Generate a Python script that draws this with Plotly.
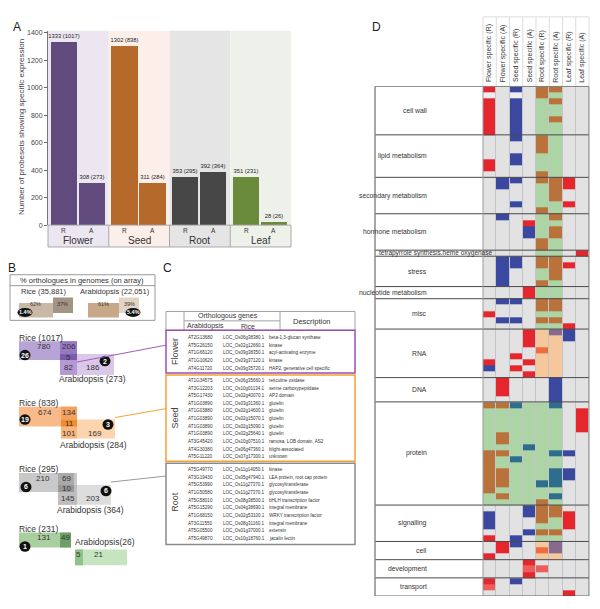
import plotly.graph_objects as go

W, H = 600, 609
FONT = "Liberation Sans, Arial, sans-serif"


def X(px):
    return px / W


def Y(py):
    return 1 - py / H


# ---------------- Panel A data ----------------
tissues = ["Flower", "Seed", "Root", "Leaf"]
rice_specific = [1333, 1302, 353, 351]
rice_with_orth = [1017, 838, 295, 231]
arab_specific = [308, 311, 392, 28]
arab_with_orth = [273, 284, 364, 26]
species_ticks = ["R", "A"]
y_ticks = [0, 200, 400, 600, 800, 1000, 1200, 1400]
bar_colors = ["#614b7e", "#b5692b", "#474747", "#6b8b3c"]
band_colors = ["#ebe6f0", "#fcefe9", "#e5e5e5", "#eef1ea"]

# ---------------- Panel B data ----------------
genome_labels = ["Rice (35,881)", "Arabidopsis (22,051)"]
pct_orth = [62, 61]
pct_nonorth = [37, 39]
pct_unique = ["1.4%", "5.4%"]

venn_rice_total = [1017, 838, 295, 231]
venn_arab_total = [273, 284, 364, 26]
venn_rice_only = [780, 674, 210, 131]
venn_rice_orth = [206, 134, 69, 49]
venn_overlap = [5, 11, 10, None]
venn_arab_orth = [82, 101, 145, 5]
venn_arab_only = [186, 169, 203, 21]
venn_rice_circle = [26, 19, 6, 1]
venn_arab_circle = [2, 3, 6, None]

# ---------------- Panel C data ----------------
flower_arab = ["AT2G13680", "AT5G26150", "AT1G66120", "AT1G10620", "AT4G11720"]
flower_rice = ["LOC_Os06g38380.1", "LOC_Os02g12660.1", "LOC_Os09g38350.1",
               "LOC_Os03g37120.1", "LOC_Os09g35720.1"]
flower_desc = ["beta-1,3-glucan synthase", "kinase", "acyl-activating enzyme",
               "kinase", "HAP2, generative cell specific"]
seed_arab = ["AT1G34575", "AT3G12203", "AT5G17430", "AT1G03890", "AT1G03880",
             "AT1G03890", "AT1G03890", "AT1G03890", "AT3G45420", "AT4G30380", "AT5G11220"]
seed_rice = ["LOC_Os06g35660.1", "LOC_Os10g01134.1", "LOC_Os02g40070.1",
             "LOC_Os03g31360.1", "LOC_Os02g14600.1", "LOC_Os02g15070.1",
             "LOC_Os02g15090.1", "LOC_Os02g25640.1", "LOC_Os10g07510.1",
             "LOC_Os06g47360.1", "LOC_Os07g17300.1"]
seed_desc = ["reticuline oxidase", "serine carboxypeptidase", "AP2 domain",
             "glutelin", "glutelin", "glutelin", "glutelin", "glutelin",
             "ramosa, LOB domain, AS2", "blight-associated", "unknown"]
root_arab = ["AT5G49770", "AT3G19430", "AT5G53990", "AT1G50580", "AT5G58010",
             "AT5G15290", "AT1G68150", "AT3G11550", "AT5G05500", "AT5G49870"]
root_rice = ["LOC_Os11g14050.1", "LOC_Os05g47940.1", "LOC_Os11g27370.1",
             "LOC_Os11g27370.1", "LOC_Os08g38500.1", "LOC_Os04g38690.1",
             "LOC_Os02g53100.1", "LOC_Os08g31160.1", "LOC_Os01g37000.1",
             "LOC_Os10g18760.1"]
root_desc = ["kinase", "LEA protein, root cap protein", "glycosyltransferase",
             "glycosyltransferase", "bHLH transcription factor", "integral membrane",
             "WRKY transcription factor", "integral membrane", "extensin", "jacalin lectin"]

# ---------------- Panel D data ----------------
heat_columns = ["Flower specific (R)", "Flower specific (A)", "Seed specific (R)",
                "Seed specific (A)", "Root specific (R)", "Root specific (A)",
                "Leaf specific (R)", "Leaf specific (A)"]
heat_categories = ["cell wall", "lipid metabolism", "secondary metabolism",
                   "hormone metabolism", "tetrapyrrole synthesis.heme oxygenase",
                   "stress", "nucleotide metabolism", "misc", "RNA", "DNA",
                   "protein", "signalling", "cell", "development", "transport"]
heat_cell_wall = ["r.b.nn..", "w.w.ng..", "r.b.gn..", "r.b.gg..", "r.b.gg..",
                  "r.b.gn..", "r.b.gg..", "r.b.gg.."]
heat_lipid = ["..b.ng..", "....ng..", "....ng..", "..b.gg..", "r.b.gg..",
              "r...gg..", "....ng.."]
heat_secondary = [".bb.nnr.", ".b..gnr.", "....gn..", "....gn..", "..b.ggr.", "....ng.."]
heat_hormone = [".b..gn..", "...rgg..", "...bgn..", "...bgn..", "....ng..", "....ng.."]
heat_tetrapyrrole = ["....gg.r"]
heat_stress = [".bb.nn..", ".bb.nnr.", ".b..gn..", ".b..gn..", ".b..ng.."]
heat_nucleotide = ["...rgg..", "...rgg.."]
heat_misc = [".bb.nn..", "....nn..", "r...gg..", ".bb.nn..", "....ggr."]
heat_rna = ["...rpvb.", "...rppb.", "...rpp..", "....op..", "..r.pp..",
            "r..rpp..", "b.r.pp..", "...rpp.."]
heat_dna = [".r...b..", ".r...b..", ".r...b..", ".....b.."]
heat_protein = ["nntggt..", "gggggg.r", "gggggg.r", "gggggg.r", "gggggg.r",
                "gngggg..", "gngggg..", "gggtgg..", "nngggtb.", "ngtggg..",
                "nggggg..", "nngggtb.", "nngggtb.", "nnggtt..", "nggggg..",
                "gngggt..", "ggggng.."]
heat_signalling = ["...bnn..", "b..bnnr.", "b...ngr.", "b...ggr.", "...bnn..", "r.b.gg.."]
heat_cell = [".rb.pv..", ".r..ov..", "r...pp.."]
heat_development = ["...r....", "...ll...", "...r...."]
heat_transport = ["r.b.....", "l.......", "......r."]

heat_blocks = [heat_cell_wall, heat_lipid, heat_secondary, heat_hormone,
               heat_tetrapyrrole, heat_stress, heat_nucleotide, heat_misc,
               heat_rna, heat_dna, heat_protein, heat_signalling, heat_cell,
               heat_development, heat_transport]

code_keys = ".wrlbngpotv"
code_colors = ["#e2e2e2", "#efedf2", "#e5262d", "#ee5c5c", "#3a48a0", "#b9733a",
               "#acd4a4", "#f6c79b", "#ee6c40", "#2e6e8c", "#876a8e"]

fig = go.Figure()


def ann(text, x, y, size=7, color="#333", xa="center", ya="middle", angle=0,
        xref="paper", yref="paper", bold=False):
    if xref == "paper":
        x = X(x)
    if yref == "paper":
        y = Y(y)
    if bold:
        text = "<b>" + str(text) + "</b>"
    fig.add_annotation(text=str(text), x=x, y=y, xref=xref, yref=yref, showarrow=False,
                       font=dict(size=size, color=color, family=FONT),
                       xanchor=xa, yanchor=ya, textangle=angle, borderpad=0)


def rect(x0, y0, x1, y1, fill=None, line=None, lw=1, layer="above"):
    fig.add_shape(type="rect", xref="paper", yref="paper",
                  x0=X(x0), x1=X(x1), y0=Y(y1), y1=Y(y0),
                  fillcolor=fill if fill else "rgba(0,0,0,0)",
                  line=dict(color=line if line else "rgba(0,0,0,0)", width=lw if line else 0),
                  layer=layer)


def seg(x0, y0, x1, y1, color, width=1):
    fig.add_shape(type="line", xref="paper", yref="paper",
                  x0=X(x0), x1=X(x1), y0=Y(y0), y1=Y(y1),
                  line=dict(color=color, width=width))


def oval(cx, cy, w, h, text, size=7):
    fig.add_shape(type="circle", xref="paper", yref="paper",
                  x0=X(cx - w / 2), x1=X(cx + w / 2), y0=Y(cy + h / 2), y1=Y(cy - h / 2),
                  fillcolor="#111", line=dict(color="#111", width=0))
    ann(text, cx, cy, size=size, color="white", bold=True)


# ================= Panel A =================
xs, ys, cols, txts = [], [], [], []
for g in range(len(tissues)):
    xs += [g + 0.26, g + 0.72]
    ys += [rice_specific[g], arab_specific[g]]
    cols += [bar_colors[g]] * 2
    txts += [f"{rice_specific[g]} ({rice_with_orth[g]})",
             f"{arab_specific[g]} ({arab_with_orth[g]})"]
fig.add_trace(go.Bar(x=xs, y=ys, width=0.43, marker=dict(color=cols, line=dict(width=0)),
                     text=txts, textposition="outside", constraintext="none",
                     textfont=dict(size=5.8, color="#222", family=FONT), cliponaxis=False,
                     xaxis="x", yaxis="y", hoverinfo="skip", showlegend=False))

for g in range(len(tissues)):
    fig.add_shape(type="rect", xref="x", yref="paper", x0=g, x1=g + 1,
                  y0=Y(247), y1=Y(29), fillcolor=band_colors[g], line=dict(width=0),
                  layer="below")
    for k, lab in enumerate(species_ticks):
        fig.add_annotation(text=lab, x=g + (0.26 if k == 0 else 0.72), y=Y(230.5),
                           xref="x", yref="paper", showarrow=False,
                           font=dict(size=6.5, color="#333", family=FONT))
    fig.add_annotation(text=tissues[g], x=g + 0.5, y=Y(240), xref="x", yref="paper",
                       showarrow=False, font=dict(size=10, color="#333", family=FONT))
    if g > 0:
        fig.add_shape(type="line", xref="x", yref="paper", x0=g, x1=g,
                      y0=Y(247), y1=Y(225), line=dict(color="#a8a8a8", width=1))
rect(48, 225, 291, 247, line="#a8a8a8", lw=1)
ann("A", 17, 25, size=12, color="#222")
ann("Number of probesets showing specific expression", 22, 126, size=8,
    color="#444", angle=-90)

# ================= Panel B =================
ann("B", 12, 268, size=12, color="#222")
rect(10, 275, 155, 321, line="#9a9a9a", lw=1)
seg(10, 286, 155, 286, "#9a9a9a", 1)
ann("% orthologues in genomes (on array)", 82, 281, size=7.5, color="#333")
ann(genome_labels[0], 20, 292, size=7.5, color="#333", xa="left")
ann(genome_labels[1], 79, 292, size=7.5, color="#333", xa="left")

orth_bar_colors = [("#c9b8a5", "#a39382"), ("#c7a98a", "#e2d3c3")]
for k, (xa_, ya_) in enumerate([("x3", "y3"), ("x4", "y4")]):
    fig.add_trace(go.Bar(y=[0], x=[pct_orth[k]], base=[0], orientation="h", width=1,
                         marker=dict(color=orth_bar_colors[k][0], line=dict(width=0)),
                         xaxis=xa_, yaxis=ya_, hoverinfo="skip", showlegend=False))
    fig.add_trace(go.Bar(y=[0], x=[pct_nonorth[k]], base=[pct_orth[k]], orientation="h",
                         width=1, marker=dict(color=orth_bar_colors[k][1], line=dict(width=0)),
                         xaxis=xa_, yaxis=ya_, hoverinfo="skip", showlegend=False))
    fig.add_annotation(text=f"{pct_orth[k]}%", x=pct_orth[k] / 2, y=0.2, xref=xa_, yref=ya_,
                       showarrow=False, font=dict(size=5.5, color="#333", family=FONT))
    fig.add_annotation(text=f"{pct_nonorth[k]}%", x=pct_orth[k] + pct_nonorth[k] / 2, y=0.2,
                       xref=xa_, yref=ya_, showarrow=False,
                       font=dict(size=5.5, color="#333", family=FONT))
oval(25, 313, 15, 9, pct_unique[0], size=5.5)
oval(133, 313, 15, 9, pct_unique[1], size=5.5)

venn_geom = [
    dict(rice=(19, 342, 77, 361), rorth=(60, 77), arab=(60, 355, 114, 376), aorth=(60, 77),
         rty=347, oy=358.5, aty=369, rlab=(18, 338.5), alab=(92, 380.5, "center"),
         rc=(25, 356), ac=(105, 362), aonly_x=93,
         colors=("#b8a3d7", "#9677c2", "#d9c8ea", "#b499d4", "#7b5aaa")),
    dict(rice=(19, 408, 77, 428), rorth=(61, 77), arab=(61, 421, 115, 440), aorth=(61, 77),
         rty=414, oy=424.5, aty=435, rlab=(18, 404), alab=(93, 447, "center"),
         rc=(25, 421), ac=(108, 426), aonly_x=95,
         colors=("#f8b98b", "#f4a262", "#fcd4ae", "#f8b67e", "#f08d30")),
    dict(rice=(19, 475, 77, 494), rorth=(58, 74), arab=(58, 487, 111, 507), aorth=(58, 77),
         rty=480, oy=490.5, aty=501, rlab=(18, 471), alab=(90, 512.5, "center"),
         rc=(26, 489), ac=(106, 493), aonly_x=93,
         colors=("#c9c9c9", "#a9a9a9", "#dddddd", "#bdbdbd", "#979797")),
    dict(rice=(19, 535, 71, 550), rorth=(60, 71), arab=(75, 552, 127, 568), aorth=(75, 83),
         rty=540, oy=None, aty=557, rlab=(18, 531), alab=(74, 544, "left"),
         rc=(25, 549), ac=None, aonly_x=98,
         colors=("#a9cfa0", "#6f9f69", "#c6e4bf", "#8fc287", "#6f9f69")),
]

for i, gm in enumerate(venn_geom):
    c_rice, c_rorth, c_arab, c_aorth, c_ov = gm["colors"]
    rx0, ry0, rx1, ry1 = gm["rice"]
    ax0, ay0, ax1, ay1 = gm["arab"]
    rect(rx0, ry0, rx1, ry1, fill=c_rice)
    rect(ax0, ay0, ax1, ay1, fill=c_arab)
    rect(gm["rorth"][0], ry0, gm["rorth"][1], ry1, fill=c_rorth)
    rect(gm["aorth"][0], ay0, gm["aorth"][1], ay1, fill=c_aorth)
    if venn_overlap[i] is not None:
        rect(gm["rorth"][0], ay0, gm["rorth"][1], ry1, fill=c_ov)
        ann(venn_overlap[i], (gm["rorth"][0] + gm["rorth"][1]) / 2, gm["oy"], size=8, color="#333")
    ann(venn_rice_only[i], rx0 + 0.62 * (gm["rorth"][0] - rx0), gm["rty"], size=8, color="#333")
    ann(venn_rice_orth[i], (gm["rorth"][0] + gm["rorth"][1]) / 2, gm["rty"], size=8, color="#333")
    ann(venn_arab_orth[i], (gm["aorth"][0] + gm["aorth"][1]) / 2, gm["aty"], size=8, color="#333")
    ann(venn_arab_only[i], gm["aonly_x"], gm["aty"], size=8, color="#333")
    ann(f"Rice ({venn_rice_total[i]})", gm["rlab"][0], gm["rlab"][1], size=8.5,
        color="#333", xa="left")
    alab = (f"Arabidopsis ({venn_arab_total[i]})" if gm["alab"][2] == "center"
            else f"Arabidopsis({venn_arab_total[i]})")
    ann(alab, gm["alab"][0], gm["alab"][1], size=8.5, color="#333", xa=gm["alab"][2])
    oval(gm["rc"][0], gm["rc"][1], 11, 10.5, venn_rice_circle[i], size=7)
    if gm["ac"] is not None and venn_arab_circle[i] is not None:
        oval(gm["ac"][0], gm["ac"][1], 11, 10.5, venn_arab_circle[i], size=7)

# connectors B -> C
seg(77, 363, 166, 346, "#a45db5", 1)
seg(115, 419, 166, 410, "#f5a33a", 1)
seg(111, 484, 166, 478, "#9a9a9a", 1)

# ================= Panel C =================
ann("C", 167, 268, size=12, color="#222")
rect(166, 312, 355, 331, line="#a0a0a0", lw=1)
seg(184, 312, 184, 331, "#a0a0a0", 1)
seg(280, 312, 280, 331, "#a0a0a0", 1)
seg(184, 321.5, 280, 321.5, "#a0a0a0", 1)
ann("Orthologous genes", 228, 316.5, size=7, color="#333")
ann("Arabidopsis", 205, 327, size=7, color="#333")
ann("Rice", 248, 327, size=7, color="#333")
ann("Description", 312, 322, size=7.5, color="#333")

sections = [("Flower", flower_arab, flower_rice, flower_desc, 331, 374, 338.5, "#9d4fb0", 353),
            ("Seed", seed_arab, seed_rice, seed_desc, 376, 463, 381.5, "#f5a033", 420),
            ("Root", root_arab, root_rice, root_desc, 465, 547, 471.5, "#8a8a8a", 504)]
for name, a_ids, r_ids, descs, top, bot, first, col, lab_y in sections:
    rect(166, top, 355, bot, line=col, lw=1.5)
    ann(name, 175, lab_y, size=9, color="#444", angle=-90)
    for j in range(len(a_ids)):
        yy = first + 7.7 * j
        ann(a_ids[j], 187, yy, size=4.6, color="#333", xa="left")
        ann(r_ids[j], 222, yy, size=4.5, color="#333", xa="left")
        ann(descs[j], 268, yy, size=4.6, color="#333", xa="left")

# ================= Panel D =================
ann("D", 376, 25, size=12, color="#222")
z = []
cat_bounds = [0]
for blk in heat_blocks:
    for row in blk:
        z.append([code_keys.index(ch) for ch in row])
    cat_bounds.append(cat_bounds[-1] + len(blk))
n_rows = len(z)
n_codes = len(code_colors)
cscale = []
for k, c in enumerate(code_colors):
    cscale.append([k / n_codes, c])
    cscale.append([(k + 1) / n_codes, c])

rect(483, 85, 589, 599, fill="#c4c4cc", layer="below")
fig.add_trace(go.Heatmap(z=z, x=list(range(len(heat_columns))), y=list(range(n_rows)),
                         colorscale=cscale, zmin=-0.5, zmax=n_codes - 0.5, showscale=False,
                         xgap=1, ygap=0, xaxis="x2", yaxis="y2", hoverinfo="skip"))

# header
rect(483, 15, 589, 85, fill="white", line="#dcdcdc", lw=1)
for k, name in enumerate(heat_columns):
    if k > 0:
        fig.add_shape(type="line", xref="x2", yref="paper", x0=k - 0.5, x1=k - 0.5,
                      y0=Y(85), y1=Y(15), line=dict(color="#dcdcdc", width=1))
    fig.add_annotation(text=name, x=k, y=Y(83), xref="x2", yref="paper", showarrow=False,
                       textangle=-90, xanchor="center", yanchor="bottom",
                       font=dict(size=7, color="#333", family=FONT))

# category lines and labels
for b in cat_bounds:
    fig.add_shape(type="line", xref="paper", yref="y2", x0=X(375), x1=X(589),
                  y0=b - 0.5, y1=b - 0.5, line=dict(color="#4a4a4a", width=1))
for i, cat in enumerate(heat_categories):
    yc = (cat_bounds[i] + cat_bounds[i + 1] - 1) / 2
    if cat_bounds[i + 1] - cat_bounds[i] == 1:
        fig.add_annotation(text=cat, x=X(377), y=yc, xref="paper", yref="y2",
                           showarrow=False, xanchor="left",
                           font=dict(size=6.5, color="#333", family=FONT))
    else:
        fig.add_annotation(text=cat, x=X(429), y=yc, xref="paper", yref="y2",
                           showarrow=False, font=dict(size=6.8, color="#333", family=FONT))
seg(375, 85, 375, 599, "#8a8a8a", 1.5)
seg(589, 85, 589, 599, "#8a8a8a", 1)
seg(483, 85, 483, 599, "#9a9a9a", 1)

hidden = dict(visible=False, showgrid=False, zeroline=False)
fig.update_layout(
    width=W, height=H, margin=dict(l=0, r=0, t=0, b=0),
    paper_bgcolor="white", plot_bgcolor="rgba(0,0,0,0)",
    font=dict(family=FONT), showlegend=False, bargap=0,
    xaxis=dict(domain=[X(48), X(291)], range=[0, 4], showticklabels=False, ticks="",
               showgrid=False, zeroline=False, showline=False, anchor="y", fixedrange=True),
    yaxis=dict(domain=[Y(225), Y(29)], range=[0, 1414], tickvals=y_ticks, ticks="outside",
               ticklen=3, tickcolor="#666", tickfont=dict(size=7, color="#444", family=FONT),
               showline=True, linecolor="#777", linewidth=1, showgrid=False, zeroline=False,
               anchor="x"),
    xaxis2=dict(domain=[X(483), X(589)], range=[-0.5, 7.5], anchor="y2", **hidden),
    yaxis2=dict(domain=[Y(599), Y(85)], range=[n_rows - 0.5, -0.5], anchor="x2", **hidden),
    xaxis3=dict(domain=[X(19), X(73)], range=[0, 99], anchor="y3", **hidden),
    yaxis3=dict(domain=[Y(318), Y(298)], range=[-0.5, 0.5], anchor="x3", **hidden),
    xaxis4=dict(domain=[X(88), X(139)], range=[0, 100], anchor="y4", **hidden),
    yaxis4=dict(domain=[Y(318), Y(298)], range=[-0.5, 0.5], anchor="x4", **hidden),
)

fig.write_html("out.html", config={"displayModeBar": False},
               post_script="document.body.style.margin='0';document.body.style.overflow='hidden';")
